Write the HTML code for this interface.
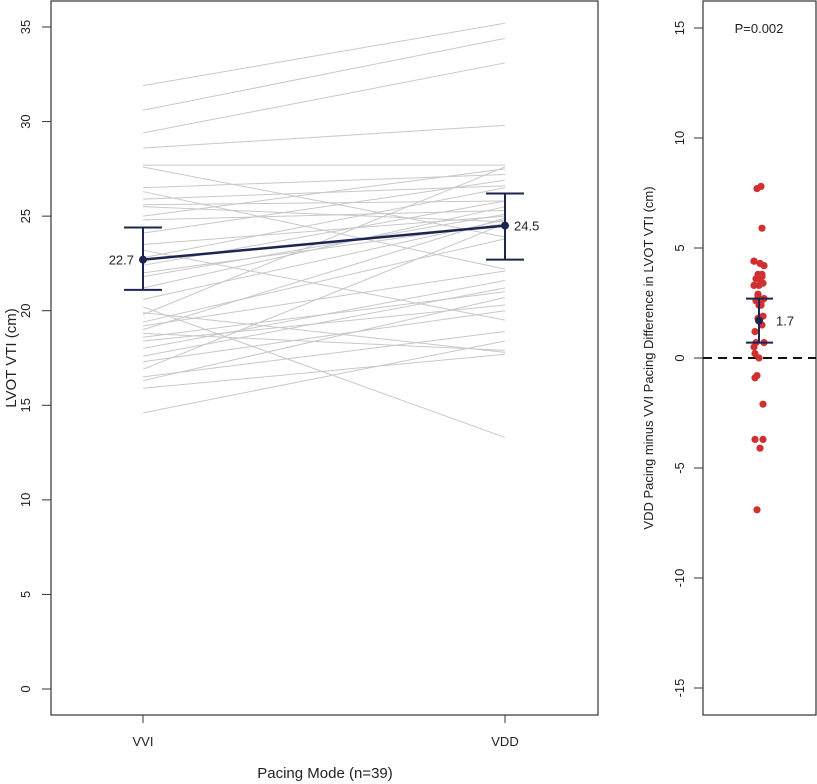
<!DOCTYPE html>
<html><head><meta charset="utf-8"><style>
body{margin:0;background:#fff}
svg{display:block;font-family:"Liberation Sans",Arial,sans-serif}
</style></head><body>
<svg id="chart" width="817" height="784"></svg>
<script>
const categories = ["VVI","VDD"];
const vviValues = [31.9,30.6,29.4,28.6,27.7,27.6,26.5,26.3,25.9,25.5,25.0,24.8,24.1,23.5,23.2,22.8,22.4,22.0,21.2,20.6,20.2,19.8,19.4,19.2,19.0,18.8,18.6,18.4,18.0,17.6,17.3,16.9,16.5,16.3,15.9,14.6,25.6,21.8,19.9];
const vddValues = [35.2,34.4,33.1,29.8,27.7,23.9,27.2,22.2,26.6,24.7,27.5,25.3,26.9,25.0,19.5,26.5,25.8,24.6,25.5,24.8,13.3,27.6,23.8,22.1,24.9,17.9,21.0,20.3,21.6,21.2,20.0,24.6,18.9,20.7,17.7,18.4,25.8,25.1,17.8];
const meanValues = [22.7,24.5];
const ciLow = [21.1,22.7];
const ciHigh = [24.4,26.2];
const diffMean = 1.7, diffLow = 0.7, diffHigh = 2.7;
const leftTicks = [0,5,10,15,20,25,30,35];
const rightTicks = [-15,-10,-5,0,5,10,15];
const pLabel = "P=0.002";

const NS="http://www.w3.org/2000/svg";
const svg=document.getElementById('chart');
function mk(t,a,p){const e=document.createElementNS(NS,t);for(const k in a)e.setAttribute(k,a[k]);(p||svg).appendChild(e);return e;}
const yL=v=>689-v*(662/35);
const xL=i=>[143,505][i];
const yR=v=>358-v*22;

let f=mk('rect',{x:51,y:1,width:547,height:714,fill:'none',stroke:'#333','stroke-width':1.2});

leftTicks.forEach(t=>{
  let l=mk('line',{x1:42,x2:51,y1:yL(t),y2:yL(t),stroke:'#333'});
  
  let tx=mk('text',{x:30,y:yL(t),'font-size':13,'text-anchor':'middle',transform:`rotate(-90 30 ${yL(t)})`,fill:'#222'});
  tx.textContent=t;
});
categories.forEach((c,i)=>{
  let l=mk('line',{x1:xL(i),x2:xL(i),y1:715,y2:723,stroke:'#333'});
  
  let tx=mk('text',{x:xL(i),y:746,'font-size':13,'text-anchor':'middle',fill:'#222'});
  tx.textContent=c;
});
let yt=mk('text',{x:16,y:358,'font-size':15,'text-anchor':'middle',transform:'rotate(-90 16 358)',fill:'#222'});
yt.textContent='LVOT VTI (cm)';
let xt=mk('text',{x:325,y:778,'font-size':15,'text-anchor':'middle',fill:'#222'});
xt.textContent='Pacing Mode (n=39)';

vviValues.forEach((v,i)=>{
  let l=mk('line',{x1:xL(0),x2:xL(1),y1:yL(v),y2:yL(vddValues[i]),stroke:'#c8c8c8','stroke-width':1});
  
});
const navy='#1b2550';
let ml=mk('line',{x1:xL(0),x2:xL(1),y1:yL(meanValues[0]),y2:yL(meanValues[1]),stroke:navy,'stroke-width':2.5});

meanValues.forEach((m,i)=>{
  const x=xL(i);
  let g=mk('g',{});
  mk('line',{x1:x,x2:x,y1:yL(ciLow[i]),y2:yL(ciHigh[i]),stroke:navy,'stroke-width':2},g);
  mk('line',{x1:x-19,x2:x+19,y1:yL(ciLow[i]),y2:yL(ciLow[i]),stroke:navy,'stroke-width':2},g);
  mk('line',{x1:x-19,x2:x+19,y1:yL(ciHigh[i]),y2:yL(ciHigh[i]),stroke:navy,'stroke-width':2},g);
  mk('circle',{cx:x,cy:yL(m),r:4,fill:navy},g);
  let t=mk('text',{x:i==0?x-9:x+9,y:yL(m)+5,'font-size':13,'text-anchor':i==0?'end':'start',fill:'#222'});
  t.textContent=m.toFixed(1);
});

let rf=mk('rect',{x:703,y:1,width:113,height:714,fill:'none',stroke:'#333','stroke-width':1.2});

rightTicks.forEach(t=>{
  let l=mk('line',{x1:694,x2:703,y1:yR(t),y2:yR(t),stroke:'#333'});
  
  let tx=mk('text',{x:684,y:yR(t),'font-size':13,'text-anchor':'middle',transform:`rotate(-90 684 ${yR(t)})`,fill:'#222'});
  tx.textContent=t;
});
let ryt=mk('text',{x:653,y:358,'font-size':13,'text-anchor':'middle',transform:'rotate(-90 653 358)',fill:'#222'});
ryt.textContent='VDD Pacing minus VVI Pacing Difference in LVOT VTI (cm)';
let pt=mk('text',{x:759,y:33,'font-size':13,'text-anchor':'middle',fill:'#222'});
pt.textContent=pLabel;
let zl=mk('line',{x1:703,x2:816,y1:yR(0),y2:yR(0),stroke:'#111','stroke-width':2,'stroke-dasharray':'9,6'});

vviValues.forEach((v,i)=>{
  const d=vddValues[i]-v;
  const jx=759+((i*37)%11-5);
  let c=mk('circle',{cx:jx,cy:yR(d),r:3.6,fill:'#d03030'});
  
});
let eg=mk('g',{});
mk('line',{x1:759,x2:759,y1:yR(diffLow),y2:yR(diffHigh),stroke:navy,'stroke-width':2},eg);
mk('line',{x1:746,x2:773,y1:yR(diffLow),y2:yR(diffLow),stroke:navy,'stroke-width':2},eg);
mk('line',{x1:746,x2:773,y1:yR(diffHigh),y2:yR(diffHigh),stroke:navy,'stroke-width':2},eg);
mk('circle',{cx:759,cy:yR(diffMean),r:4,fill:navy},eg);
let dl=mk('text',{x:776,y:yR(diffMean)+5,'font-size':13,fill:'#222'});
dl.textContent=diffMean.toFixed(1);
</script>
</body></html>
